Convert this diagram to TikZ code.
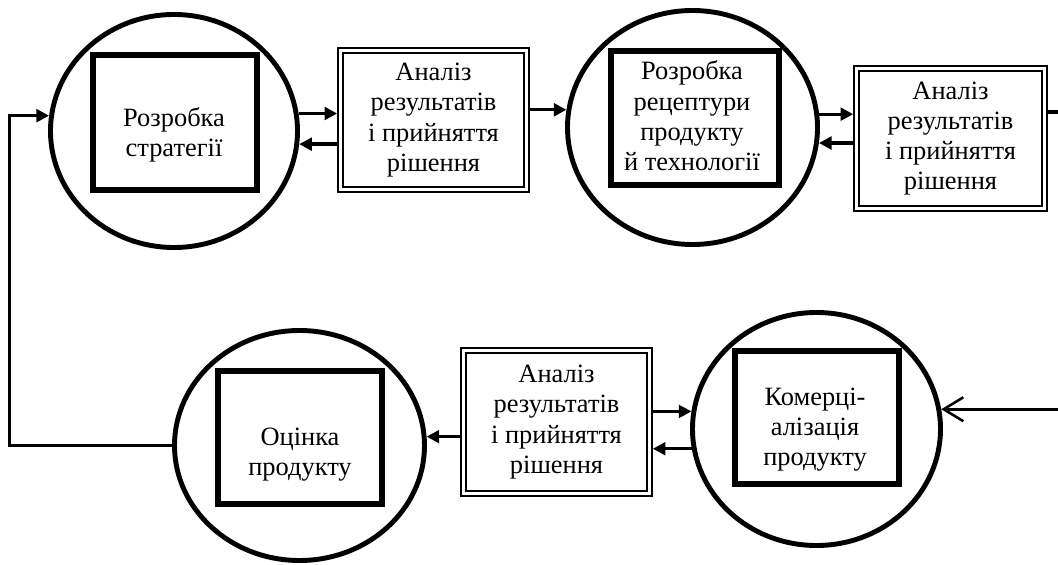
\documentclass[tikz,border=0pt]{standalone}
\usepackage{fontspec}
\setmainfont{Liberation Serif}
\usepackage{tikz}
\usetikzlibrary{shapes.geometric, arrows.meta}

\begin{document}
\begin{tikzpicture}[font=\fontsize{18.8}{21.5}\selectfont,
    >={Triangle[length=9pt,width=9pt]},
    stage/.style={ellipse, draw, line width=3.5pt, inner sep=0pt},
    core/.style={rectangle, draw, line width=4pt, inner sep=0pt},
    review/.style={rectangle, draw, double, line width=1.5pt, double distance=2pt,
        outer sep=2.5pt, inner sep=0pt, align=center,
        minimum width=4.64cm, minimum height=3.5cm},
    lbl/.style={align=center, inner sep=0pt},
    link/.style={line width=2.4pt}]
        \useasboundingbox (0,0) rectangle (26.45,-14.125);
        \node[stage, minimum width=6.175cm, minimum height=5.825cm] (c1) at (4.35,-3.275) {};
        \node[stage, minimum width=6.25cm, minimum height=5.85cm] (c2) at (17.3125,-3.1875) {};
        \node[stage, minimum width=6.25cm, minimum height=5.75cm] (c3) at (7.4875,-11.1375) {};
        \node[stage, minimum width=6.2cm, minimum height=5.825cm] (c4) at (20.4125,-10.725) {};
        \node[core, minimum width=4.1cm, minimum height=3.375cm] (r1) at (4.375,-3.0625) {};
        \node[core, minimum width=4.2cm, minimum height=3.35cm] (r2) at (17.375,-2.95) {};
        \node[core, minimum width=4.1cm, minimum height=3.325cm] (r3) at (7.5,-10.9375) {};
        \node[core, minimum width=4.1cm, minimum height=3.325cm] (r4) at (20.425,-10.4375) {};
        \node[lbl] (t1) at (4.35,-3.37) {Розробка\\стратегії};
        \node[lbl] (t2) at (17.3,-2.9) {Розробка\\рецептури\\продукту\\й технології};
        \node[lbl] (t3) at (7.5,-11.37) {Оцінка\\продукту};
        \node[lbl] (t4) at (20.375,-10.74) {Комерці-\\алізація\\продукту};
        \node[review, minimum height=3.47cm] (a1) at (10.8375,-3.0) {Аналіз\\результатів\\і прийняття\\рішення};
        \node[review, minimum width=4.69cm, minimum height=3.49cm] (a2) at (23.7625,-3.4625) {Аналіз\\результатів\\і прийняття\\рішення};
        \node[review, minimum height=3.57cm] (a3) at (13.9125,-10.55) {Аналіз\\результатів\\і прийняття\\рішення};
        \coordinate (outR) at (26.45,-2.8);
        \coordinate (inR) at (26.45,-10.2);
        \coordinate (fb) at (0.23,-7);
        \draw[link,->] (c1.8.4) -- (c1.8.4 -| a1.west);
        \draw[link,->] (a1.west |- c1.-6.5) -- (c1.-6.5);
        \draw[link,->] (a1.east |- c2.172.9) -- (c2.172.9);
        \draw[link,->] (c2.6.6) -- (c2.6.6 -| a2.west);
        \draw[link,->] (a2.west |- c2.-7.1) -- (c2.-7.1);
        \draw[link] (outR -| a2.east) -- (outR);
        \draw[link,-{Straight Barb[length=14pt,width=17pt,line width=1.8pt]}] (c4.9.8 -| inR) -- (c4.9.8);
        \draw[link,->] (a3.east |- c4.172.6) -- (c4.172.6);
        \draw[link,->] (c4.-171.6) -- (c4.-171.6 -| a3.east);
        \draw[link,->] (a3.west |- c3.4.8) -- (c3.4.8);
        \draw[link,->] (c3.west) -| (fb) |- (c1.173.5);
\end{tikzpicture}
\end{document}
